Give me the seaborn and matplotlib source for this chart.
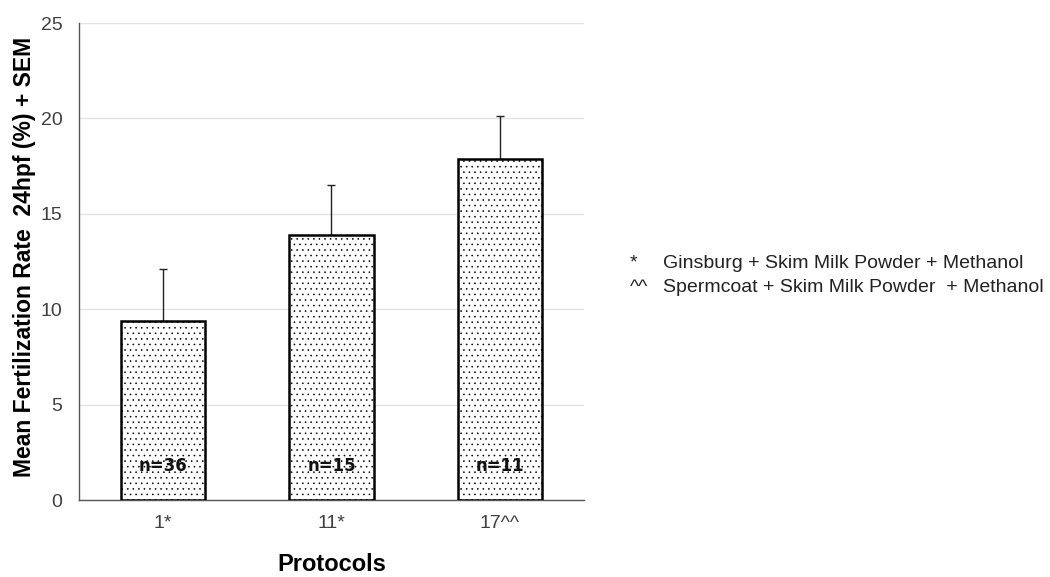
import matplotlib
matplotlib.use("Agg")
import matplotlib.pyplot as plt
import seaborn as sns
import pandas as pd

protocols = ["1*", "11*", "17^^"]
mean_rate = [9.4, 13.87, 17.89]
sem = [2.72, 2.62, 2.25]
n_labels = ["n=36", "n=15", "n=11"]
legend_keys = ["*", "^^"]
legend_texts = ["Ginsburg + Skim Milk Powder + Methanol",
                "Spermcoat + Skim Milk Powder  + Methanol"]

sns.set_theme(style="white")
plt.rcParams['font.family'] = ['Liberation Sans', 'DejaVu Sans']
plt.rcParams['hatch.linewidth'] = 0.4
plt.rcParams['hatch.color'] = '#444444'

df = pd.DataFrame({"Protocol": protocols, "Mean": mean_rate, "SEM": sem})

fig = plt.figure(figsize=(10.5, 5.77), dpi=100)
ax = fig.add_axes([0.0752, 0.1334, 0.481, 0.8267])

sns.barplot(data=df, x="Protocol", y="Mean", ax=ax, color="white",
            edgecolor="black", linewidth=1.8, width=0.5, errorbar=None,
            hatch="...", zorder=3)

ax.errorbar(range(len(protocols)), df["Mean"], yerr=[[0] * len(sem), df["SEM"]],
            fmt="none", ecolor="#222222", elinewidth=1.0, capsize=3.2,
            capthick=1.0, zorder=2)

for i, lab in enumerate(n_labels):
    ax.text(i, 1.8, lab, ha="center", va="center", fontsize=12,
            fontweight="bold", family="DejaVu Sans", color="#111111", zorder=5)

ax.set_xlim(-0.5, 2.5)
ax.set_ylim(0, 25)
ax.set_yticks([0, 5, 10, 15, 20, 25])
ax.yaxis.grid(True, color="#e3e3e3", linewidth=1.0, zorder=0)
ax.set_axisbelow(True)
for s in ["top", "right"]:
    ax.spines[s].set_visible(False)
ax.spines["left"].set_color("#555555")
ax.spines["bottom"].set_color("#555555")
ax.spines["left"].set_linewidth(1.0)
ax.spines["bottom"].set_linewidth(1.0)
ax.tick_params(axis="both", length=0, labelsize=14, colors="#404040")
ax.tick_params(axis="y", pad=12)
ax.tick_params(axis="x", pad=11)
ax.set_xlabel("Protocols", fontsize=17, fontweight="bold", labelpad=15, color="black")
ax.set_ylabel("Mean Fertilization Rate  24hpf (%) + SEM", fontsize=16.5,
              fontweight="bold", color="black")
ax.yaxis.set_label_coords(-0.086, 0.51)

ys = [0.544, 0.501]
for key, txt, y in zip(legend_keys, legend_texts, ys):
    fig.text(0.600, y, key, fontsize=14, va="center", color="#222222")
    fig.text(0.631, y, txt, fontsize=14, va="center", color="#222222")

fig.savefig("out.png", dpi=100)
